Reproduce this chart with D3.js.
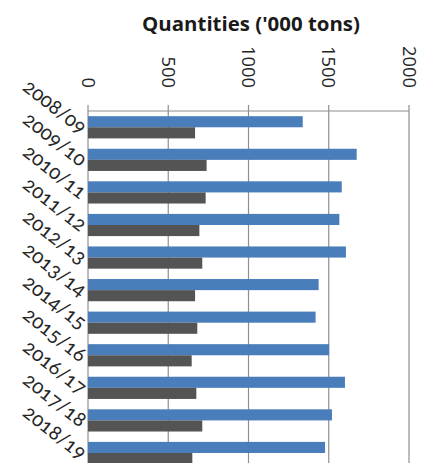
<!DOCTYPE html>
<html>
<head>
<meta charset="utf-8">
<script src="https://cdn.jsdelivr.net/npm/d3@7"></script>
<style>
html,body{margin:0;padding:0;background:#fff;}
svg{display:block;}
.cat{font-family:Lato,"Open Sans",sans-serif;font-variant-numeric:oldstyle-nums;font-feature-settings:"onum" 1;}
</style>
</head>
<body>
<svg id="chart" width="422" height="463"></svg>
<script>
const categories = ["2008/09","2009/10","2010/11","2011/12","2012/13","2013/14","2014/15","2015/16","2016/17","2017/18","2018/19"];
const seriesNames = ["A","B"];
const seriesA = [1338,1674,1581,1566,1607,1437,1418,1502,1601,1520,1477];
const seriesB = [667,739,733,694,712,667,681,646,675,712,650];
const tickValues = [0,500,1000,1500,2000];
const title = "Quantities ('000 tons)";
const colors = ["#4a7ebb","#545454"];

(function(){
const svg = d3.select("#chart");
const W = 422, H = 463;
const mLeft = 88, mRight = 409, mTop = 111;
const step = 32.57;

const x = d3.scaleLinear().domain([0,2000]).range([mLeft,mRight]);
const y0 = d3.scaleBand().domain(categories).range([mTop, mTop + step*categories.length]).padding(0);
const y1 = d3.scaleBand().domain(seriesNames).range([0, y0.bandwidth()]).paddingInner(0).paddingOuter(0.467);

// gridlines
svg.append("g").selectAll("line").data(tickValues).join("line")
  .attr("x1", d => x(d)).attr("x2", d => x(d))
  .attr("y1", mTop - 6).attr("y2", H)
  .attr("stroke", "#8f8f8f").attr("stroke-width", 1.2);

// axis line (top)
svg.append("line").attr("x1", mLeft).attr("x2", mRight).attr("y1", mTop).attr("y2", mTop)
  .attr("stroke", "#8f8f8f").attr("stroke-width", 1.2);

// bars
const data = categories.map((c,i) => ({cat:c, vals:[seriesA[i], seriesB[i]]}));
const g = svg.append("g");
data.forEach(d => {
  d.vals.forEach((v,j) => {
    g.append("rect")
      .attr("x", x(0))
      .attr("y", y0(d.cat) + y1(seriesNames[j]))
      .attr("width", x(v) - x(0))
      .attr("height", y1.bandwidth())
      .attr("fill", colors[j]);
  });
});

// tick labels (rotated 90deg)
const tl = svg.append("g").selectAll("text").data(tickValues).join("text")
  .attr("transform", d => `translate(${x(d)},88) rotate(90)`)
  .attr("text-anchor", "end")
  .attr("dy", "0.35em")
  .attr("font-family", "Open Sans, sans-serif")
  .attr("font-size", 18)
  .attr("fill", "#262626")
  .text(d => d);
// fit: "1500" spans ~43px in the reference
const l1500 = tl.filter(d => d === 1500).node().getComputedTextLength();
tl.attr("font-size", 18 * 42 / l1500);

// category labels
const cl = svg.append("g").selectAll("text").data(categories).join("text")
  .attr("class", "cat")
  .attr("transform", d => `translate(84,${y0(d) + y0.bandwidth()/2 + 2}) rotate(38)`)
  .attr("text-anchor", "end")
  .attr("dy", "0.35em")
  .attr("font-size", 18)
  .attr("fill", "#262626")
  .text(d => d);
const lc = cl.node().getComputedTextLength();
cl.attr("font-size", 18 * 74 / lc);

// title
const t = svg.append("text")
  .attr("x", 251).attr("y", 31)
  .attr("text-anchor", "middle")
  .attr("font-family", "Open Sans, sans-serif")
  .attr("font-weight", "bold")
  .attr("font-size", 20)
  .attr("fill", "#1a1a1a")
  .text(title);
const len = t.node().getComputedTextLength();
t.attr("font-size", 20 * 218 / len);
})();
</script>
</body>
</html>
